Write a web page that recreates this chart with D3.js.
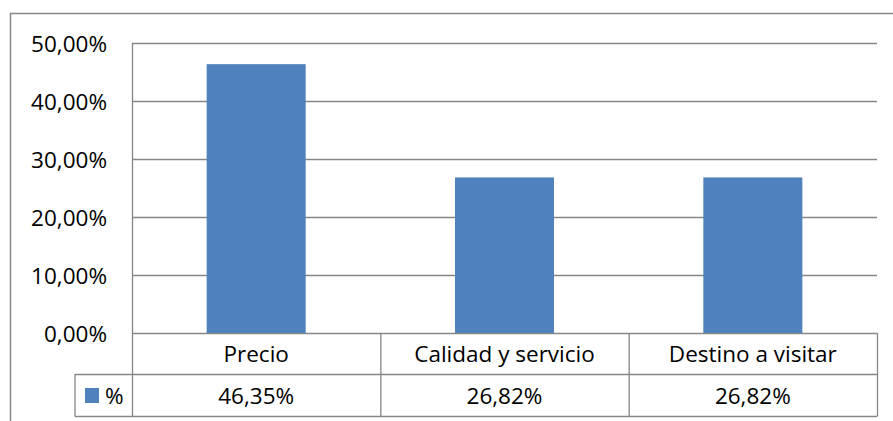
<!DOCTYPE html>
<html>
<head>
<meta charset="utf-8">
<script src="https://cdn.jsdelivr.net/npm/d3@7"></script>
<style>
  body { margin: 0; background: #fff; }
  text { font-family: "Open Sans", "Liberation Sans", sans-serif; fill: #000; }
</style>
</head>
<body>
<div id="chart"></div>
<script>
// data
var categories = ["Precio", "Calidad y servicio", "Destino a visitar"];
var values = [0.4635, 0.2682, 0.2682];
var valueLabels = ["46,35%", "26,82%", "26,82%"];
var seriesName = "%";
var yTicks = [0, 0.1, 0.2, 0.3, 0.4, 0.5];

var width = 893, height = 421;
var barColor = "#4F81BD";
var lineColor = "#868686";
var fontSize = "22.5px";

var svg = d3.select("#chart").append("svg")
  .attr("width", width)
  .attr("height", height);

// outer frame
svg.append("rect")
  .attr("x", 10.5).attr("y", 13.5)
  .attr("width", 900).attr("height", 420)
  .attr("fill", "none").attr("stroke", lineColor).attr("stroke-width", 1.5);

var plotLeft = 132, plotRight = 877, plotTop = 43, plotBottom = 333;
var row1 = 374, row2 = 416, legendLeft = 75;

var x = d3.scaleBand().domain(categories).range([plotLeft, plotRight]).paddingInner(0).paddingOuter(0);
var y = d3.scaleLinear().domain([0, 0.5]).range([plotBottom, plotTop]);
var fmt = function(d) { return d3.format(".2f")(d * 100).replace(".", ",") + "%"; };

// gridlines
svg.append("g").selectAll("line").data(yTicks).join("line")
  .attr("x1", plotLeft).attr("x2", plotRight)
  .attr("y1", d => y(d) + 0.5).attr("y2", d => y(d) + 0.5)
  .attr("stroke", lineColor).attr("stroke-width", 1.3);

// y axis line
svg.append("line")
  .attr("x1", plotLeft + 0.5).attr("x2", plotLeft + 0.5)
  .attr("y1", plotTop).attr("y2", row2)
  .attr("stroke", lineColor).attr("stroke-width", 1.3);

// tick labels
svg.append("g").selectAll("text").data(yTicks).join("text")
  .attr("x", 107).attr("y", d => y(d) + 1)
  .attr("dy", "0.35em")
  .attr("text-anchor", "end")
  .style("font-size", fontSize)
  .text(fmt);

// bars
var barW = 99;
svg.append("g").selectAll("rect").data(values).join("rect")
  .attr("x", (d, i) => x(categories[i]) + x.bandwidth() / 2 - barW / 2)
  .attr("y", d => y(d))
  .attr("width", barW)
  .attr("height", d => y(0) - y(d))
  .attr("fill", barColor);

// data table
var t = svg.append("g").attr("stroke", lineColor).attr("stroke-width", 1.3);
t.append("line").attr("x1", plotLeft).attr("x2", plotRight).attr("y1", row1 + 0.5).attr("y2", row1 + 0.5);
t.append("line").attr("x1", legendLeft).attr("x2", legendLeft).attr("y1", row1).attr("y2", row2 + 0.5);
t.append("line").attr("x1", legendLeft).attr("x2", plotLeft).attr("y1", row1 + 0.5).attr("y2", row1 + 0.5);
t.append("line").attr("x1", legendLeft).attr("x2", plotRight).attr("y1", row2 + 0.5).attr("y2", row2 + 0.5);
t.selectAll(".col").data(categories).join("line")
  .attr("x1", d => x(d) + x.bandwidth() + 0.5).attr("x2", d => x(d) + x.bandwidth() + 0.5)
  .attr("y1", plotBottom).attr("y2", row2 + 0.5);

svg.append("g").selectAll("text").data(categories).join("text")
  .attr("x", d => x(d) + x.bandwidth() / 2)
  .attr("y", (plotBottom + row1) / 2 + 1)
  .attr("dy", "0.35em")
  .attr("text-anchor", "middle")
  .style("font-size", fontSize)
  .text(d => d);

svg.append("g").selectAll("text").data(valueLabels).join("text")
  .attr("x", (d, i) => x(categories[i]) + x.bandwidth() / 2)
  .attr("y", (row1 + row2) / 2 + 1)
  .attr("dy", "0.35em")
  .attr("text-anchor", "middle")
  .style("font-size", fontSize)
  .text(d => d);

// legend key
svg.append("rect")
  .attr("x", 85).attr("y", 388).attr("width", 14).attr("height", 15)
  .attr("fill", barColor);
svg.append("text")
  .attr("x", 105).attr("y", (row1 + row2) / 2 + 1)
  .attr("dy", "0.35em")
  .style("font-size", fontSize)
  .text(seriesName);
</script>
</body>
</html>
